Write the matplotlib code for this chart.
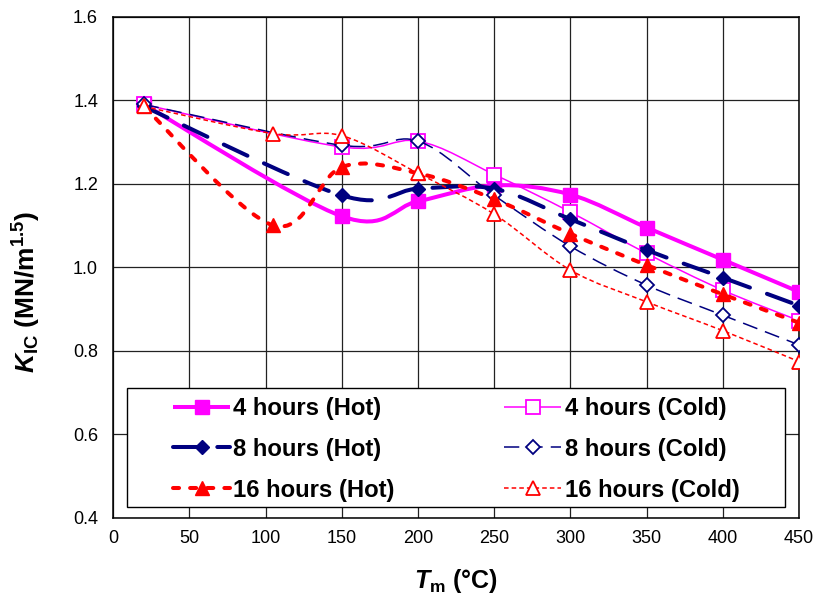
import matplotlib
matplotlib.use("Agg")
import matplotlib.pyplot as plt
import numpy as np
from matplotlib.lines import Line2D
from matplotlib.patches import PathPatch, Rectangle
from matplotlib.path import Path

plt.rcParams["font.family"] = ["Liberation Sans", "DejaVu Sans"]
plt.rcParams["mathtext.fontset"] = "custom"
plt.rcParams["mathtext.rm"] = "Liberation Sans:bold"
plt.rcParams["mathtext.bf"] = "Liberation Sans:bold"
plt.rcParams["mathtext.it"] = "Liberation Sans:bold:italic"

# melt temperature (deg C) and fracture toughness K_IC (MN/m^1.5)
temp = [20, 150, 200, 250, 300, 350, 400, 450]
temp_16 = [20, 105, 150, 200, 250, 300, 350, 400, 450]

k_4h_hot = [1.390, 1.122, 1.158, 1.196, 1.174, 1.095, 1.018, 0.941]
k_4h_cold = [1.390, 1.288, 1.302, 1.222, 1.132, 1.033, 0.945, 0.872]
k_8h_hot = [1.385, 1.172, 1.188, 1.188, 1.115, 1.041, 0.975, 0.908]
k_8h_cold = [1.390, 1.292, 1.302, 1.172, 1.050, 0.957, 0.885, 0.814]
k_16h_hot = [1.385, 1.100, 1.240, 1.225, 1.163, 1.080, 1.005, 0.935, 0.867]
k_16h_cold = [1.385, 1.320, 1.315, 1.225, 1.127, 0.993, 0.917, 0.848, 0.774]

MAGENTA = "#FF00FF"
NAVY = "#000080"
RED = "#FF0000"

series = [
    # label, x, y, color, lw, dashes, marker, ms, filled
    ("4 hours (Hot)", temp, k_4h_hot, MAGENTA, 2.9, None, "s", 10, True),
    ("4 hours (Cold)", temp, k_4h_cold, MAGENTA, 1.1, None, "s", 9.5, False),
    ("8 hours (Hot)", temp, k_8h_hot, NAVY, 2.9, (6.5, 4.5), "D", 7.5, True),
    ("8 hours (Cold)", temp, k_8h_cold, NAVY, 1.1, (10, 5.3), "D", 7.5, False),
    ("16 hours (Hot)", temp_16, k_16h_hot, RED, 2.9, (1.5, 2.75), "^", 10.5, True),
    ("16 hours (Cold)", temp_16, k_16h_cold, RED, 1.1, (3, 2), "^", 10.5, False),
]


def smooth_path(xs, ys):
    # piecewise cubic Bezier through the points (spreadsheet-style smoothed line)
    pts = np.column_stack([xs, ys]).astype(float)
    n = len(pts)
    verts = [pts[0]]
    codes = [Path.MOVETO]
    for i in range(n - 1):
        p0 = pts[i - 1] if i > 0 else pts[i]
        p1 = pts[i]
        p2 = pts[i + 1]
        p3 = pts[i + 2] if i + 2 < n else pts[i + 1]
        verts += [p1 + (p2 - p0) / 6, p2 - (p3 - p1) / 6, p2]
        codes += [Path.CURVE4] * 3
    return Path(verts, codes)


fig = plt.figure(figsize=(8.18, 6.04), dpi=100)
ax = fig.add_axes([113.3 / 818, 1 - 517.7 / 604, (799 - 113.3) / 818, (517.7 - 16.7) / 604])

handles = {}
for z, (label, xs, ys, color, lw, dashes, marker, ms, filled) in enumerate(series):
    ls = "-" if dashes is None else (0, dashes)
    cap = "round" if (dashes is not None and lw > 2) else "butt"
    patch = PathPatch(smooth_path(xs, ys), fill=False, edgecolor=color, lw=lw,
                      linestyle=ls, capstyle=cap, zorder=3 + z)
    ax.add_patch(patch)
    face = color if filled else "white"
    ax.plot(xs, ys, linestyle="none", marker=marker, ms=ms, mfc=face, mec=color,
            mew=1.0 if filled else 1.3, zorder=3.5 + z)
    handles[label] = Line2D([], [], color=color, lw=lw, linestyle=ls,
                            solid_capstyle="butt", dash_capstyle=cap,
                            marker=marker, ms=ms, mfc=face, mec=color,
                            mew=1.0 if filled else 1.3)

ax.set_xlim(0, 450)
ax.set_ylim(0.4, 1.6)
ax.set_xticks(np.arange(0, 451, 50))
ax.set_yticks(np.arange(0.4, 1.61, 0.2))
ax.set_yticklabels([f"{v:.1f}" for v in np.arange(0.4, 1.61, 0.2)])
ax.tick_params(length=0, labelsize=13, colors="black")
ax.tick_params(axis="x", pad=9)
ax.tick_params(axis="y", pad=11)
ax.grid(True, color="#222222", lw=0.9)
ax.set_axisbelow(True)
for sp in ax.spines.values():
    sp.set_color("black")
    sp.set_linewidth(1.1)

ax.set_xlabel(r"$T_{\mathrm{m}}$ (°C)", fontsize=18, fontweight="bold", labelpad=14)
ax.set_ylabel(r"$K_{\mathrm{IC}}$ (MN/m$^{\mathrm{1.5}}$)", fontsize=19,
              fontweight="bold")
ax.yaxis.set_label_coords(-0.102, 0.45)

# legend box drawn separately so the padding can differ per side
box = Rectangle((127 / 818, 1 - 507 / 604), (785 - 127) / 818, (507 - 388) / 604,
                transform=fig.transFigure, facecolor="white", edgecolor="black",
                lw=1.0, zorder=20, clip_on=False)
ax.add_patch(box)

order = ["4 hours (Hot)", "8 hours (Hot)", "16 hours (Hot)",
         "4 hours (Cold)", "8 hours (Cold)", "16 hours (Cold)"]
leg = ax.legend([handles[k] for k in order], order, ncol=2, loc="upper left",
                bbox_to_anchor=(173 / 818, 1 - 397 / 604), bbox_transform=fig.transFigure,
                frameon=False, borderpad=0, borderaxespad=0, handlelength=2.4,
                handletextpad=0.13, columnspacing=4.57, labelspacing=0.745,
                prop={"weight": "bold", "size": 17.2})
leg.set_zorder(21)

fig.savefig("out.png", dpi=100)
